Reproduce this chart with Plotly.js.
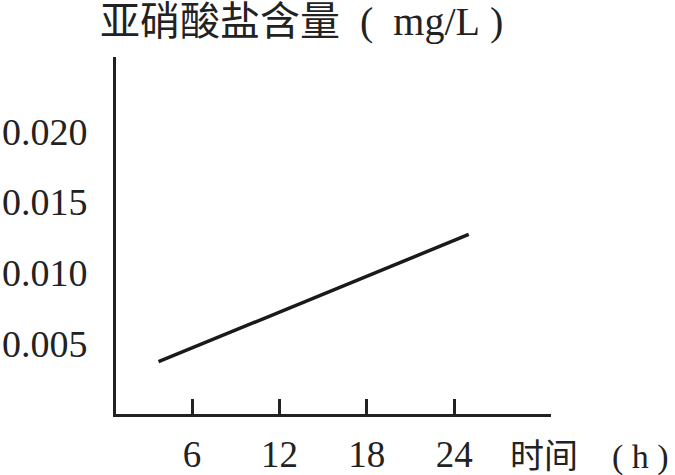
<!DOCTYPE html>
<html>
<head>
<meta charset="utf-8">
<script src="https://cdn.plot.ly/plotly-3.0.1.min.js"></script>
<style>html,body{margin:0;padding:0;background:#fff;}#chart{width:675px;height:475px;}</style>
</head>
<body>
<div id="chart"></div>
<script>
const timeHours = [3.7, 25];
const nitrite = [0.0037, 0.0127];
const xTickVals = [6, 12, 18, 24];
const xTickText = ['6', '12', '18', '24'];
const yTickVals = [0.005, 0.010, 0.015, 0.020];
const yTickText = ['0.005', '0.010', '0.015', '0.020'];
const titleText = '亚硝酸盐含量\u00a0\u00a0(\u00a0\u00a0mg/L\u00a0)';
const xTitleText = '时间\u3000(\u00a0h\u00a0)';

const FONT = 'Liberation Serif, "Noto Sans CJK SC", serif';
const INK = '#222222';

Plotly.newPlot('chart', [{
  x: timeHours,
  y: nitrite,
  type: 'scatter',
  mode: 'lines',
  line: {color: '#1a1a1a', width: 3.5},
  hoverinfo: 'skip'
}], {
  width: 675,
  height: 475,
  paper_bgcolor: '#ffffff',
  plot_bgcolor: '#ffffff',
  showlegend: false,
  margin: {l: 116, r: 124, t: 57, b: 61, pad: 0},
  title: {
    text: titleText,
    font: {family: FONT, size: 40, color: INK},
    x: 100 / 675, xanchor: 'left', xref: 'container',
    y: 1 - 21 / 475, yanchor: 'middle', yref: 'container'
  },
  xaxis: {
    range: [0.78, 30.65],
    showgrid: false, zeroline: false,
    showline: true, linecolor: INK, linewidth: 3,
    ticks: 'inside', ticklen: 15, tickwidth: 3, tickcolor: INK,
    tickmode: 'array', tickvals: xTickVals, ticktext: xTickText,
    tickfont: {family: FONT, size: 37, color: INK},
    ticklabelstandoff: 6,
    fixedrange: true
  },
  yaxis: {
    range: [0, 0.02525],
    showgrid: false, zeroline: false,
    showline: true, linecolor: INK, linewidth: 3,
    ticks: '',
    tickmode: 'array', tickvals: yTickVals, ticktext: yTickText,
    tickfont: {family: FONT, size: 38, color: INK},
    ticklabelstandoff: 18,
    fixedrange: true
  },
  annotations: [{
    text: xTitleText,
    xref: 'paper', yref: 'paper',
    x: (508 - 116) / 435, xanchor: 'left',
    y: (414 - 457) / 357, yanchor: 'middle',
    showarrow: false,
    font: {family: FONT, size: 34, color: INK}
  }]
}, {displayModeBar: false, staticPlot: true});
</script>
</body>
</html>
